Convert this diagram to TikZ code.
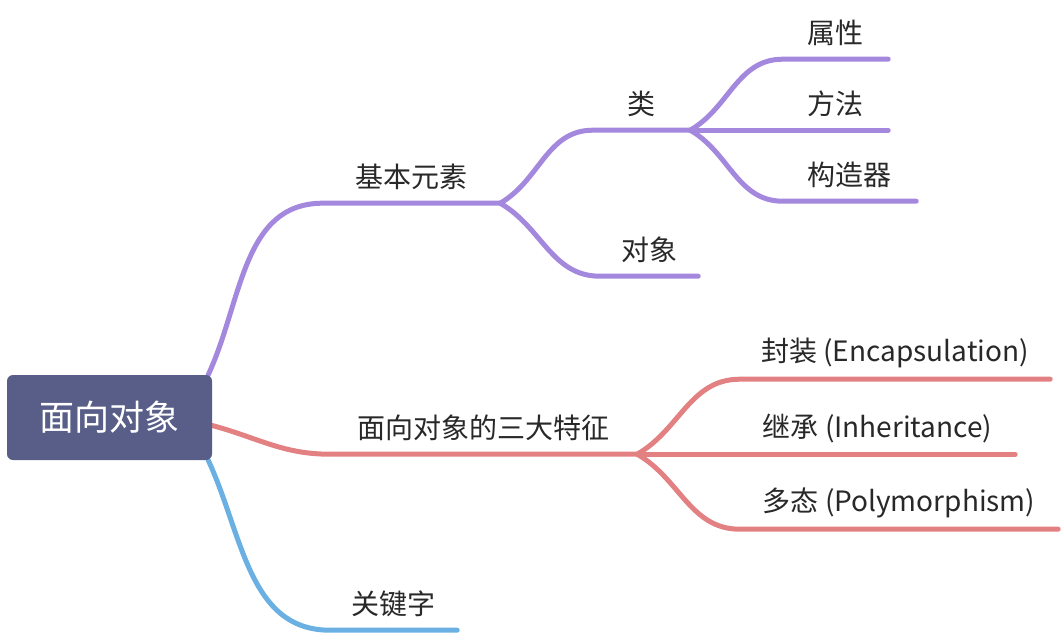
\documentclass[tikz,border=0pt]{standalone}
\usepackage{fontspec}
\setmainfont{Noto Sans CJK SC}
\usetikzlibrary{backgrounds}

\definecolor{rootfill}{RGB}{88,94,136}
\definecolor{mmpurple}{RGB}{163,136,221}
\definecolor{mmred}{RGB}{226,128,130}
\definecolor{mmblue}{RGB}{106,176,226}
\definecolor{txtgray}{RGB}{40,40,40}

\begin{document}
\begin{tikzpicture}[x=1pt, y=-1pt,
  rootbox/.style={fill=rootfill, rounded corners=6pt, text=white,
    font=\fontsize{35}{40}\selectfont, minimum width=205pt,
    minimum height=85pt, inner sep=0pt},
  topic/.style={text=txtgray, font=\fontsize{28}{32}\selectfont,
    minimum height=52pt, inner sep=0pt},
  branch/.style={line width=5pt, line cap=round}]
  \useasboundingbox (0,0) rectangle (1064,636);

  % central topic
  \node[rootbox] (root) at (109.5,417.5) {面向对象};

  % first level
  \node[topic, minimum width=177pt] (jbys) at (411.5,177) {基本元素};
  \node[topic, minimum width=307pt] (tz)   at (483.5,428) {面向对象的三大特征};
  \node[topic, minimum width=127pt] (gjz)  at (393.5,604) {关键字};

  % under 基本元素
  \node[topic, minimum width=97pt]  (cls) at (641.5,104) {类};
  \node[topic, minimum width=98pt]  (dx)  at (649,250)   {对象};
  \node[topic, minimum width=105pt] (sx)  at (835.5,33)  {属性};
  \node[topic, minimum width=105pt] (ff)  at (835.5,104) {方法};
  \node[topic, minimum width=133pt] (gzq) at (849.5,175) {构造器};

  % under 三大特征
  \node[topic, minimum width=310pt] (fz) at (895,353)   {封装 (Encapsulation)};
  \node[topic, minimum width=275pt] (jc) at (877.5,428) {继承 (Inheritance)};
  \node[topic, minimum width=318pt] (dt) at (899,503)   {多态 (Polymorphism)};

  \begin{scope}[on background layer]
    \draw[branch, mmpurple] ([xshift=-4pt]root.north east) to[out=65,in=180]
      (jbys.south west) -- (jbys.south east);
    \draw[branch, mmpurple] (jbys.south east) to[out=30,in=180]
      (cls.south west) -- (cls.south east);
    \draw[branch, mmpurple] (jbys.south east) to[out=-30,in=180]
      (dx.south west) -- (dx.south east);
    \draw[branch, mmpurple] (cls.south east) to[out=30,in=180]
      (sx.south west) -- (sx.south east);
    \draw[branch, mmpurple] (cls.south east) -- (ff.south west) -- (ff.south east);
    \draw[branch, mmpurple] (cls.south east) to[out=-30,in=180]
      (gzq.south west) -- (gzq.south east);

    \draw[branch, mmred] ([yshift=-8pt]root.east) to[out=-15,in=180]
      (tz.south west) -- (tz.south east);
    \draw[branch, mmred] (tz.south east) to[out=30,in=180]
      (fz.south west) -- (fz.south east);
    \draw[branch, mmred] (tz.south east) -- (jc.south west) -- (jc.south east);
    \draw[branch, mmred] (tz.south east) to[out=-30,in=180]
      (dt.south west) -- (dt.south east);

    \draw[branch, mmblue] ([xshift=-4pt]root.south east) to[out=-65,in=180]
      (gjz.south west) -- (gjz.south east);
  \end{scope}
\end{tikzpicture}
\end{document}
